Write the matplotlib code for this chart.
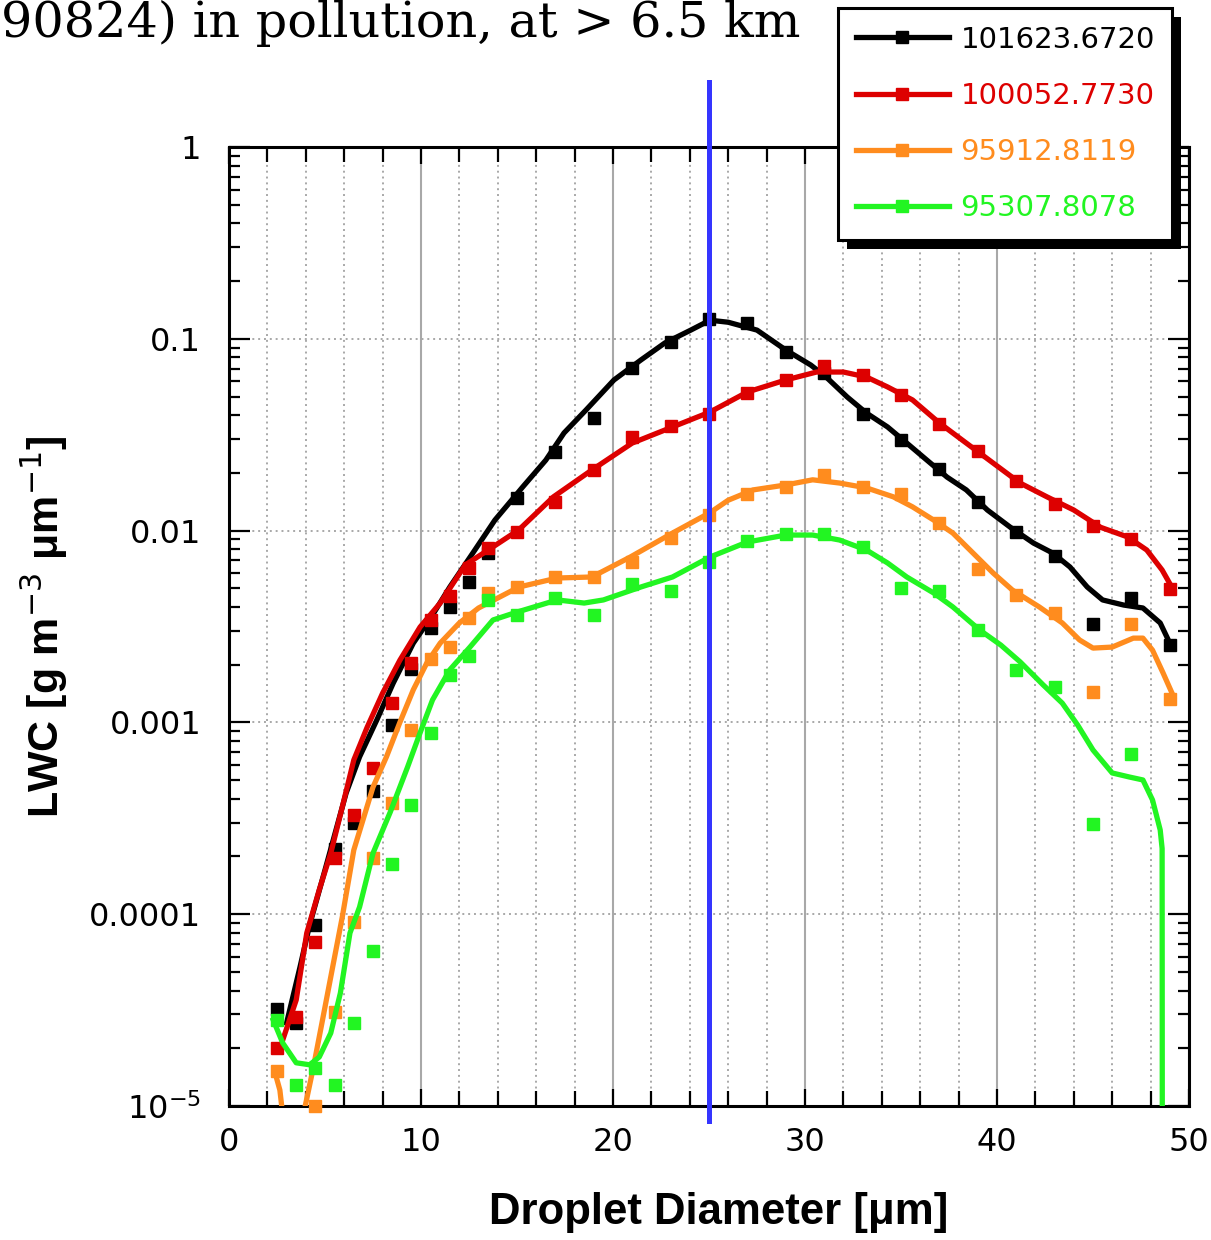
import numpy as np
import matplotlib
matplotlib.use("Agg")
import matplotlib.pyplot as plt
from matplotlib.lines import Line2D
from matplotlib.patches import Rectangle
from matplotlib.transforms import IdentityTransform
from matplotlib.ticker import FixedLocator, MultipleLocator, NullFormatter, LogLocator

# bin centres of the droplet spectrum (um)
bins = [2.5, 3.5, 4.5, 5.5, 6.5, 7.5, 8.5, 9.5, 10.5, 11.5, 12.5, 13.5,
        15, 17, 19, 21, 23, 25, 27, 29, 31, 33, 35, 37, 39, 41, 43, 45, 47, 49]

labels = ["101623.6720", "100052.7730", "95912.8119", "95307.8078"]
colors = ["#000000", "#dd0000", "#ff8c1e", "#22f522"]

# measured points (g m-3 um-1)
black_pts = [3.2e-5, 2.7e-5, 8.8e-5, 2.2e-4, 3.0e-4, 4.4e-4, 9.7e-4, 1.9e-3, 3.1e-3, 4.0e-3, 5.4e-3, 7.6e-3,
             0.0148, 0.0257, 0.0386, 0.0704, 0.096, 0.127, 0.121, 0.085, 0.066, 0.0405, 0.0297, 0.0209,
             0.0141, 0.0098, 0.0074, 0.00326, 0.00445, 0.00253]
red_pts = [2.0e-5, 2.9e-5, 7.2e-5, 1.96e-4, 3.3e-4, 5.8e-4, 1.26e-3, 2.04e-3, 3.4e-3, 4.56e-3, 6.4e-3, 8.1e-3,
           0.0098, 0.0141, 0.0207, 0.0308, 0.035, 0.0405, 0.052, 0.061, 0.072, 0.0648, 0.051, 0.036,
           0.026, 0.0181, 0.0138, 0.0106, 0.0090, 0.00496]
orange_pts = [1.52e-5, np.nan, 1.0e-5, 3.1e-5, 9.1e-5, 1.96e-4, 3.8e-4, 9.1e-4, 2.14e-3, 2.47e-3, 3.5e-3, 4.7e-3,
              5.1e-3, 5.7e-3, 5.7e-3, 6.9e-3, 9.1e-3, 0.0121, 0.0155, 0.0169, 0.0195, 0.0169, 0.0155, 0.011,
              6.3e-3, 4.6e-3, 3.7e-3, 1.44e-3, 3.26e-3, 1.32e-3]
green_pts = [2.8e-5, 1.28e-5, 1.58e-5, 1.28e-5, 2.7e-5, 6.4e-5, 1.83e-4, 3.7e-4, 8.8e-4, 1.77e-3, 2.22e-3, 4.35e-3,
             3.63e-3, 4.45e-3, 3.63e-3, 5.27e-3, 4.84e-3, 6.86e-3, 8.8e-3, 9.6e-3, 9.6e-3, 8.2e-3, 5.0e-3, 4.84e-3,
             3.03e-3, 1.87e-3, 1.53e-3, 2.95e-4, 6.85e-4, np.nan]

# smoothed curves
black_cx = [3.0, 3.7, 4.2, 5.0, 6.1, 6.8, 7.7, 8.55, 9.6, 10.6, 11.5, 12.7, 13.85, 15.3, 16.5, 17.45, 18.6,
            20.05, 21.45, 22.7, 24.05, 25.05, 26.0, 27.5, 29.0, 30.3, 31.1, 32.2, 33.2, 34.3, 35.3, 36.35,
            37.4, 38.4, 39.5, 40.7, 41.9, 42.9, 43.8, 44.7, 45.5, 46.6, 47.6, 48.5, 49.0]
black_cy = [2.71e-5, 5.31e-5, 8.79e-5, 1.70e-4, 4.28e-4, 6.61e-4, 1.03e-3, 1.60e-3, 2.59e-3, 3.63e-3, 5.08e-3,
            7.64e-3, 1.135e-2, 1.69e-2, 2.33e-2, 3.23e-2, 4.26e-2, 6.10e-2, 7.75e-2, 9.51e-2, 0.111, 0.125,
            0.122, 0.111, 8.74e-2, 7.30e-2, 6.32e-2, 4.97e-2, 4.10e-2, 3.47e-2, 2.86e-2, 2.33e-2, 1.90e-2,
            1.63e-2, 1.28e-2, 1.04e-2, 8.61e-3, 7.64e-3, 6.46e-3, 5.08e-3, 4.35e-3, 4.09e-3, 3.95e-3,
            3.30e-3, 2.59e-3]
red_cx = [2.8, 3.5, 4.05, 4.7, 5.3, 5.9, 6.5, 7.2, 8.0, 8.9, 9.95, 11.0, 12.3, 13.5, 15.1, 16.9, 18.9, 21.0,
          23.1, 25.05, 27.0, 29.0, 30.6, 32.0, 33.2, 34.3, 35.6, 37.0, 38.4, 39.8, 41.2, 42.6, 44.0, 45.4,
          46.8, 47.8, 48.6, 49.1]
red_cy = [2.21e-5, 3.57e-5, 7.98e-5, 1.34e-4, 2.08e-4, 3.62e-4, 6.37e-4, 9.46e-4, 1.42e-3, 2.11e-3, 3.14e-3,
          4.19e-3, 6.62e-3, 7.92e-3, 1.01e-2, 1.50e-2, 2.07e-2, 2.86e-2, 3.47e-2, 4.15e-2, 5.28e-2, 6.10e-2,
          6.71e-2, 6.71e-2, 6.32e-2, 5.61e-2, 4.80e-2, 3.64e-2, 2.86e-2, 2.25e-2, 1.77e-2, 1.50e-2, 1.28e-2,
          1.04e-2, 9.27e-3, 7.92e-3, 6.23e-3, 5.08e-3]
orange_cx = [2.4, 2.65, 2.75, 3.3, 3.96, 4.4, 4.9, 5.4, 5.9, 6.5, 7.5, 8.2, 8.9, 9.6, 10.3, 11.0, 12.0, 13.0,
             15.1, 17.1, 18.9, 20.9, 23.1, 25.05, 26.0, 27.3, 29.0, 30.4, 31.8, 33.2, 34.6, 35.6, 36.7, 37.7,
             38.75, 39.8, 40.8, 42.2, 43.4, 44.3, 45.0, 46.0, 47.1, 47.6, 48.1, 48.65, 49.2]
orange_cy = [1.49e-5, 1.21e-5, 9.9e-6, 3e-6, 9.9e-6, 1.60e-5, 2.91e-5, 5.31e-5, 9.67e-5, 2.16e-4, 4.60e-4,
             6.61e-4, 1.00e-3, 1.48e-3, 2.04e-3, 2.59e-3, 3.30e-3, 3.95e-3, 5.08e-3, 5.66e-3, 5.73e-3, 7.28e-3,
             9.71e-3, 1.24e-2, 1.44e-2, 1.63e-2, 1.73e-2, 1.84e-2, 1.77e-2, 1.67e-2, 1.50e-2, 1.33e-2,
             1.135e-2, 9.71e-3, 7.64e-3, 6.01e-3, 4.90e-3, 4.00e-3, 3.30e-3, 2.69e-3, 2.44e-3, 2.47e-3,
             2.75e-3, 2.75e-3, 2.38e-3, 1.81e-3, 1.36e-3]
green_cx = [2.3, 2.8, 3.5, 4.2, 4.7, 5.3, 5.8, 6.3, 6.8, 7.5, 8.4, 9.3, 9.95, 10.6, 11.5, 12.55, 13.75, 15.0,
            17.1, 18.5, 19.5, 21.45, 23.1, 25.05, 27.0, 29.0, 30.4, 31.8, 33.2, 34.3, 35.3, 36.7, 37.7, 39.1,
            40.2, 41.2, 42.4, 43.4, 44.2, 45.0, 46.0, 46.9, 47.6, 48.1, 48.5, 48.6, 48.62]
green_cy = [2.81e-5, 2.13e-5, 1.68e-5, 1.64e-5, 1.80e-5, 2.40e-5, 3.88e-5, 7.98e-5, 1.09e-4, 2.08e-4, 3.41e-4,
            5.85e-4, 8.81e-4, 1.31e-3, 1.88e-3, 2.47e-3, 3.42e-3, 3.76e-3, 4.35e-3, 4.19e-3, 4.35e-3, 5.08e-3,
            5.73e-3, 7.28e-3, 8.72e-3, 9.48e-3, 9.48e-3, 8.93e-3, 7.92e-3, 6.78e-3, 5.73e-3, 4.73e-3, 4.00e-3,
            3.03e-3, 2.53e-3, 2.07e-3, 1.57e-3, 1.26e-3, 9.69e-4, 7.18e-4, 5.45e-4, 5.19e-4, 5.01e-4, 3.94e-4,
            2.75e-4, 2.2e-4, 1e-7]

cut_diameter = 25.0
yticks = [1e-5, 1e-4, 1e-3, 1e-2, 1e-1, 1]
ytick_labels = ["$10^{-5}$", "0.0001", "0.001", "0.01", "0.1", "1"]

W, H = 1211, 1240
fig = plt.figure(figsize=(W / 100, H / 100), dpi=100)
ax = fig.add_axes([229 / W, 1 - 1106 / H, 960 / W, 959 / H])

pts = [black_pts, red_pts, orange_pts, green_pts]
curves = [(black_cx, black_cy), (red_cx, red_cy), (orange_cx, orange_cy), (green_cx, green_cy)]
handles = []
for (cx, cy), p, c, lab in zip(curves, pts, colors, labels):
    ax.plot(cx, cy, color=c, lw=3.8, zorder=3)
    ax.plot(bins, p, ls="none", marker="s", ms=9, color=c, mec=c, zorder=3, clip_on=False)
    handles.append(Line2D([], [], color=c, lw=3.8, marker="s", ms=9, label=lab))

ax.axvline(cut_diameter, ymin=-0.016, ymax=1.068, color="#3535ff", lw=3.6, clip_on=False, zorder=4)

ax.set_xlim(0, 50)
ax.set_yscale("log")
ax.set_ylim(1e-5, 1)

ax.xaxis.set_major_locator(MultipleLocator(10))
ax.xaxis.set_minor_locator(MultipleLocator(2))
ax.yaxis.set_major_locator(FixedLocator(yticks))
ax.set_yticklabels(ytick_labels)
ax.yaxis.set_minor_locator(LogLocator(base=10, subs=np.arange(2, 10)))
ax.yaxis.set_minor_formatter(NullFormatter())

for lab in ax.get_xticklabels() + ax.get_yticklabels():
    lab.set_fontfamily("DejaVu Sans")
ax.tick_params(axis="both", which="both", direction="in", top=True, right=True, width=1.6, labelsize=23)
ax.tick_params(axis="x", which="major", length=12, pad=15)
ax.tick_params(axis="x", which="minor", length=11)
ax.tick_params(axis="y", which="major", length=15, pad=20)
ax.tick_params(axis="y", which="minor", length=8)

# grid: solid majors / dotted minors in x, dotted decades in y
ax.grid(True, axis="x", which="major", color="#a8a8a8", lw=1.5, ls="-")
ax.grid(True, axis="x", which="minor", color="#a8a8a8", lw=1.4, ls=(0, (1, 2)))
ax.grid(True, axis="y", which="major", color="#a8a8a8", lw=1.4, ls=(0, (1, 2)))
ax.set_axisbelow(True)
for s in ax.spines.values():
    s.set_linewidth(2.2)

ax.set_xlabel("Droplet Diameter [μm]", family="Liberation Sans", weight="bold", size=31.5, va="center")
ax.xaxis.set_label_coords(0.51, -0.111)
ax.set_ylabel("LWC [g m$^{-3}$ μm$^{-1}$]", family="Liberation Sans", weight="bold", size=31, va="center")
ax.yaxis.set_label_coords(-0.192, 0.5)

fig.text(800 / W, 1 - 37 / H, "90824) in pollution, at > 6.5 km", family="DejaVu Serif",
         size=35.5, ha="right", va="baseline")

leg = fig.legend(handles=handles, loc="upper left", bbox_to_anchor=(838 / W, 1 - 8 / H),
                 prop={"family": "DejaVu Sans", "size": 21}, labelcolor="linecolor",
                 frameon=True, fancybox=False, framealpha=1, edgecolor="black",
                 handlelength=3.2, handletextpad=0.4, labelspacing=0.97, borderpad=0.6,
                 borderaxespad=0, numpoints=1)
leg.get_frame().set_linewidth(2.2)
leg.set_zorder(6)

fig.canvas.draw()
bb = leg.get_window_extent()
fig.add_artist(Rectangle((bb.x0 + 9, bb.y0 - 9), bb.width, bb.height, transform=IdentityTransform(),
                         facecolor="black", edgecolor="none", zorder=5))

fig.savefig("out.png", dpi=100)
